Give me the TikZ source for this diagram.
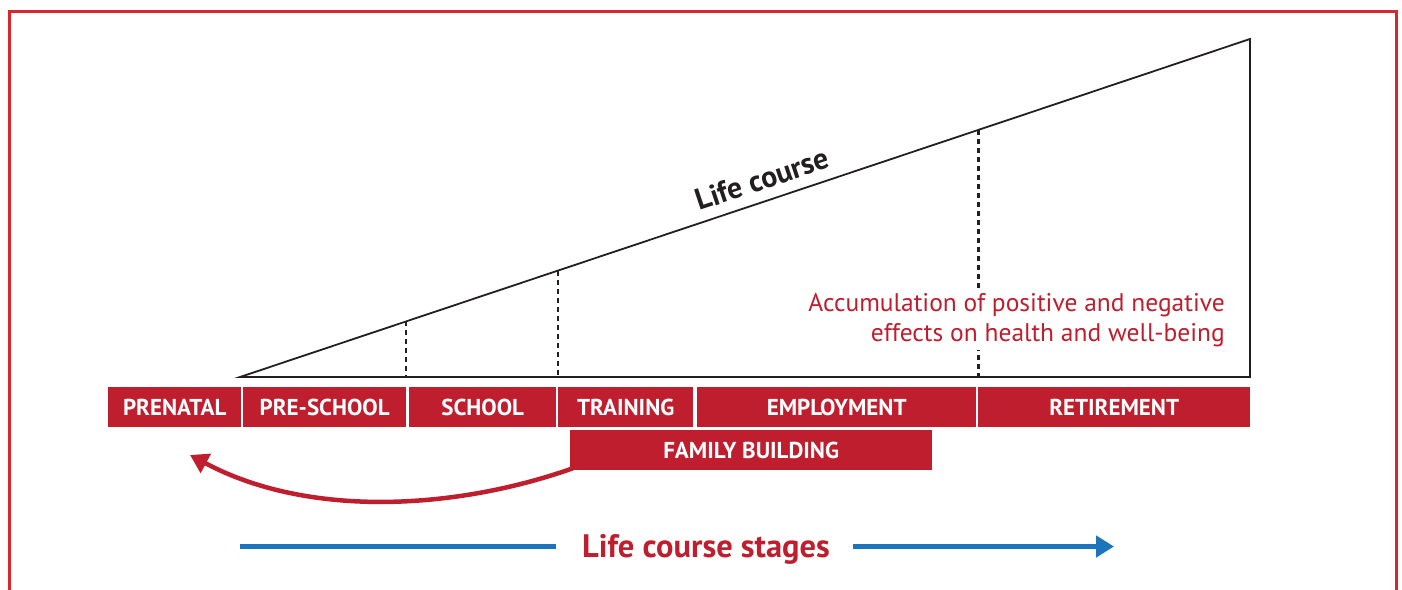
\documentclass[tikz,border=0pt]{standalone}
\usepackage{fontspec}
\setmainfont{PT Sans}
\usetikzlibrary{arrows.meta}
\definecolor{lcred}{HTML}{BE1E2D}
\definecolor{framered}{HTML}{D7262E}
\definecolor{lcblue}{HTML}{1C75BC}
\definecolor{ink}{HTML}{231F20}
\begin{document}
\begin{tikzpicture}[x=1pt,y=-1pt,
  stagebox/.style={fill=lcred, text=white, font=\fontsize{23}{23}\selectfont\bfseries, inner sep=0pt, minimum height=40pt, anchor=west},
  divider/.style={draw=ink, line width=2.2pt, dash pattern=on 5pt off 4pt},
  slopeline/.style={draw=ink, line width=1.8pt, line join=miter},
  bluearrow/.style={draw=lcblue, line width=5pt},
  redarrow/.style={draw=lcred, line width=4.5pt},
]
\useasboundingbox (0,0) rectangle (1402,589);
% frame
\draw[framered, line width=3pt] (9.5,595) -- (9.5,11.5) -- (1396.5,11.5) -- (1396.5,595);

% triangle
\coordinate (A) at (240,377);
\coordinate (B) at (1250,377);
\coordinate (C) at (1250,39);
\coordinate (d1t) at (406,321.4);
\coordinate (d1b) at (406,377);
\coordinate (d2t) at (558,270.6);
\coordinate (d2b) at (558,377);
\coordinate (d3t) at (978.5,130);
\coordinate (d3b) at (978.5,377);
\draw[divider] (d1t) -- (d1b);
\draw[divider] (d2t) -- (d2b);
\draw[divider] (d3t) -- (d3b);
\draw[slopeline] (A) -- (B) -- (C) -- cycle;

\node[rotate=18.5, font=\fontsize{30}{30}\selectfont\bfseries, text=ink] (lc) at (762,179) {Life course};

\node[font=\fontsize{25.5}{30}\selectfont, text=lcred, align=right, fill=white, inner sep=3pt, anchor=north east] (acc) at (1228,290) {Accumulation of positive and negative\\effects on health and well-being};

% stage boxes
\node[stagebox, minimum width=133pt] (prenatal) at (108,407) {PRENATAL};
\node[stagebox, minimum width=163pt] (preschool) at (243,407) {PRE-SCHOOL};
\node[stagebox, minimum width=147pt] (school) at (409,407) {SCHOOL};
\node[stagebox, minimum width=135pt] (training) at (558,407) {TRAINING};
\node[stagebox, minimum width=279pt] (employment) at (697,407) {EMPLOYMENT};
\node[stagebox, minimum width=272pt] (retirement) at (978,407) {RETIREMENT};
\node[stagebox, minimum width=362pt] (family) at (570,450) {FAMILY BUILDING};

% curved arrow
\coordinate (tip) at (190,455);
\draw[redarrow, -{Triangle[length=18pt,width=21pt]}] ([xshift=3pt,yshift=2pt]family.south west) .. controls (458,509) and (310,519) .. (tip);

% life course stages arrow
\coordinate (bl1) at (240,546.5);
\coordinate (bl2) at (556,546.5);
\coordinate (br1) at (853,546.5);
\coordinate (br2) at (1114,546.5);
\node[font=\fontsize{32.5}{32.5}\selectfont\bfseries, text=lcred, anchor=base] (stages) at (706,557) {Life course stages};
\draw[bluearrow] (bl1) -- (bl2);
\draw[bluearrow, -{Triangle[length=18pt,width=21pt]}] (br1) -- (br2);
\end{tikzpicture}
\end{document}
